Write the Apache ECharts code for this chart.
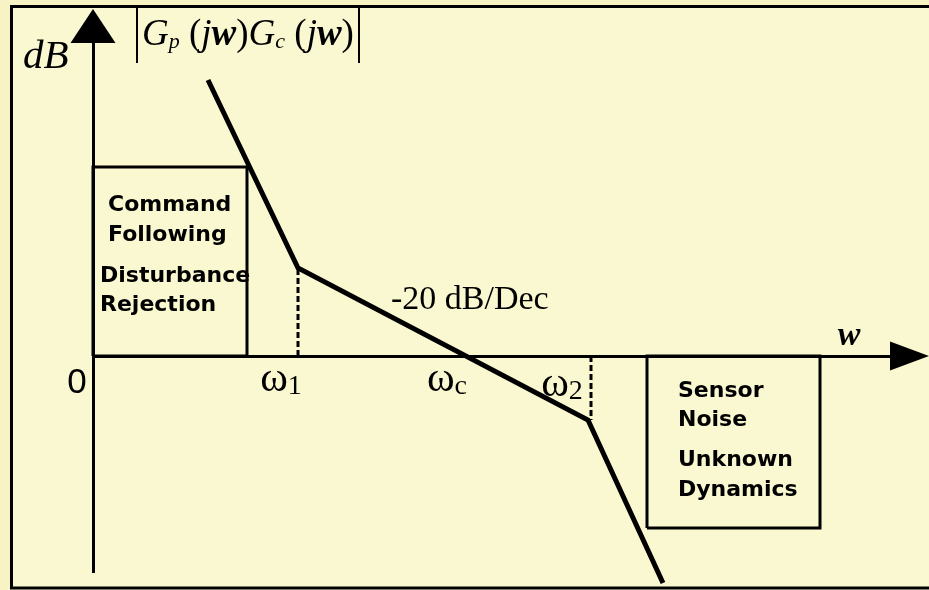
<!DOCTYPE html>
<html><head><meta charset="utf-8">
<script src="https://cdn.jsdelivr.net/npm/echarts@6/dist/echarts.min.js"></script>
<style>html,body{margin:0;padding:0;background:#F7F3C3;} #c{width:929px;height:590px;}</style>
</head><body><div id="c"></div><script>
// ---- data (schematic units: 10 px per unit, origin at the axes crossing) ----
const curveFreq = [11.5, 20.5, 49.5, 57.0];
const curveGain = [27.6, 8.8, -6.4, -22.7];
const breakFreq = [20.5, 49.8];
const breakGain = [8.8, -6.4];
const lowBandFreq = [0, 15.4];
const lowBandGain = [0, 18.9];
const highBandFreq = [55.4, 72.7];
const highBandGain = [-17.2, 0];
const freqSubscripts = ['1', 'c', '2'];
const lowBandText = ['Command\nFollowing', 'Disturbance\nRejection'];
const highBandText = ['Sensor\nNoise', 'Unknown\nDynamics'];
const slopeText = '-20 dB/Dec';
const yAxisName = 'dB';
const xAxisName = 'w';
const originText = '0';

// ---- layout ----
const SERIF = "'Liberation Serif','Times New Roman',serif";
const SANS = "'DejaVu Sans',sans-serif";
const xRange = [-9.3, 83.6];
const yRange = [-23.4, 35.6];
const frame = {left: -8.15, top: 34.95, bottom: -23.2, right: 86};
const yAxisEnds = [-21.7, 33.0];
const xAxisEnd = 81.65;
const freqLabelPos = [[18.8, -2.4], [35.4, -2.4], [46.9, -2.9]];

const chart = echarts.init(document.getElementById('c'), null, {renderer: 'canvas'});

function rect(fx, gy) {
  return [[fx[0], gy[0]], [fx[0], gy[1]], [fx[1], gy[1]], [fx[1], gy[0]], [fx[0], gy[0]]];
}
const black = '#000000';
const series = [];

// inner panel fill + frame
series.push({type: 'line', data: [], silent: true, z: 0,
  markArea: {silent: true, label: {show: false}, emphasis: {disabled: true},
    itemStyle: {color: '#FAF8D0', opacity: 1},
    data: [[{coord: [frame.left, frame.top]}, {coord: [frame.right, frame.bottom]}]]}});
series.push({type: 'line', silent: true, symbol: 'none', clip: false, z: 1,
  data: [[frame.right, frame.top], [frame.left, frame.top], [frame.left, frame.bottom], [frame.right, frame.bottom]],
  lineStyle: {color: black, width: 3, join: 'miter'}});

// bands (boxes)
[[lowBandFreq, lowBandGain], [highBandFreq, highBandGain]].forEach(([f, g]) => {
  series.push({type: 'line', data: rect(f, g), symbol: 'none', silent: true,
    lineStyle: {color: black, width: 3, join: 'miter'}, z: 2});
});

// axes arrows
series.push({type: 'line', data: [], silent: true,
  markLine: {silent: true, symbol: ['none', 'triangle'], symbolSize: [45, 34],
    label: {show: false}, emphasis: {disabled: true},
    lineStyle: {color: black, width: 3, type: 'solid'},
    itemStyle: {color: black},
    data: [[{coord: [0, yAxisEnds[0]]}, {coord: [0, yAxisEnds[1]]}]]}, z: 3});
series.push({type: 'line', data: [], silent: true,
  markLine: {silent: true, symbol: ['none', 'triangle'], symbolSize: [29, 39],
    label: {show: false}, emphasis: {disabled: true},
    lineStyle: {color: black, width: 3, type: 'solid'},
    itemStyle: {color: black},
    data: [[{coord: [0, 0]}, {coord: [xAxisEnd, 0]}]]}, z: 3});
// magnitude bars |...|
series.push({type: 'line', data: [], silent: true,
  markLine: {silent: true, symbol: ['none', 'none'],
    label: {show: false}, emphasis: {disabled: true},
    lineStyle: {color: black, width: 2, type: 'solid'},
    data: [[{coord: [4.4, 34.8]}, {coord: [4.4, 29.3]}], [{coord: [26.6, 34.8]}, {coord: [26.6, 29.3]}]]}, z: 3});

// dashed break lines
breakFreq.forEach((f, i) => {
  series.push({type: 'line', data: [[f, 0], [f, breakGain[i]]], symbol: 'none', silent: true,
    lineStyle: {color: black, width: 3, type: [6, 3]}, z: 3});
});

// gain curve
series.push({type: 'line', data: curveFreq.map((f, i) => [f, curveGain[i]]), symbol: 'none', silent: true,
  lineStyle: {color: black, width: 5, join: 'miter', cap: 'butt'}, z: 5});

// texts
const texts = [];
function txt(x, y, label) {
  texts.push({value: [x, y], label: Object.assign({show: true, position: 'inside', verticalAlign: 'middle', color: black}, label)});
}
txt(-7.0, 29.9, {formatter: yAxisName, align: 'left', fontFamily: SERIF, fontStyle: 'italic', fontSize: 41});
txt(4.9, 32.1, {
  formatter: '{gi|G}{sub|p}{r| (}{i|j}{bw|w}{r|)}{gi|G}{sub|c}{r| (}{i|j}{bw|w}{r|)}', align: 'left',
  rich: {
    gi: {fontFamily: SERIF, fontStyle: 'italic', fontSize: 37, color: black},
    i: {fontFamily: SERIF, fontStyle: 'italic', fontSize: 37, color: black},
    bw: {fontFamily: SERIF, fontStyle: 'italic', fontWeight: 'bold', fontSize: 37, color: black},
    r: {fontFamily: SERIF, fontSize: 37, color: black},
    sub: {fontFamily: SERIF, fontStyle: 'italic', fontSize: 22, lineHeight: 24, verticalAlign: 'bottom', color: black}
  }
});
txt(29.8, 5.6, {formatter: slopeText, align: 'left', fontFamily: SERIF, fontSize: 34});
freqSubscripts.forEach((s, i) => {
  txt(freqLabelPos[i][0], freqLabelPos[i][1], {formatter: '{w|ω}{s|' + s + '}', align: 'center',
    rich: {w: {fontFamily: SERIF, fontSize: 42, color: black},
           s: {fontFamily: SERIF, fontSize: 28, lineHeight: 22, verticalAlign: 'bottom', color: black}}});
});
txt(-1.6, -2.7, {formatter: originText, align: 'center', fontFamily: "'Liberation Sans',Arial,sans-serif", fontSize: 35});
txt(75.6, 2.0, {formatter: xAxisName, align: 'center', fontFamily: SERIF, fontStyle: 'italic', fontWeight: 'bold', fontSize: 34});
const bandStyle = {align: 'left', fontFamily: SANS, fontWeight: 'bold', fontSize: 22, lineHeight: 29.5};
txt(1.5, 13.55, Object.assign({formatter: lowBandText[0]}, bandStyle));
txt(0.7, 6.5, Object.assign({formatter: lowBandText[1]}, bandStyle));
txt(58.5, -5.0, Object.assign({formatter: highBandText[0]}, bandStyle));
txt(58.5, -11.95, Object.assign({formatter: highBandText[1]}, bandStyle));

series.push({type: 'scatter', data: texts, symbolSize: 0, silent: true, z: 10,
  itemStyle: {opacity: 1}});

chart.setOption({
  animation: false,
  backgroundColor: '#F7F3C3',
  grid: {left: 0, top: 0, right: 0, bottom: 0, show: false},
  xAxis: {type: 'value', min: xRange[0], max: xRange[1], show: false},
  yAxis: {type: 'value', min: yRange[0], max: yRange[1], show: false},
  tooltip: {show: false},
  series: series
});
</script></body></html>
